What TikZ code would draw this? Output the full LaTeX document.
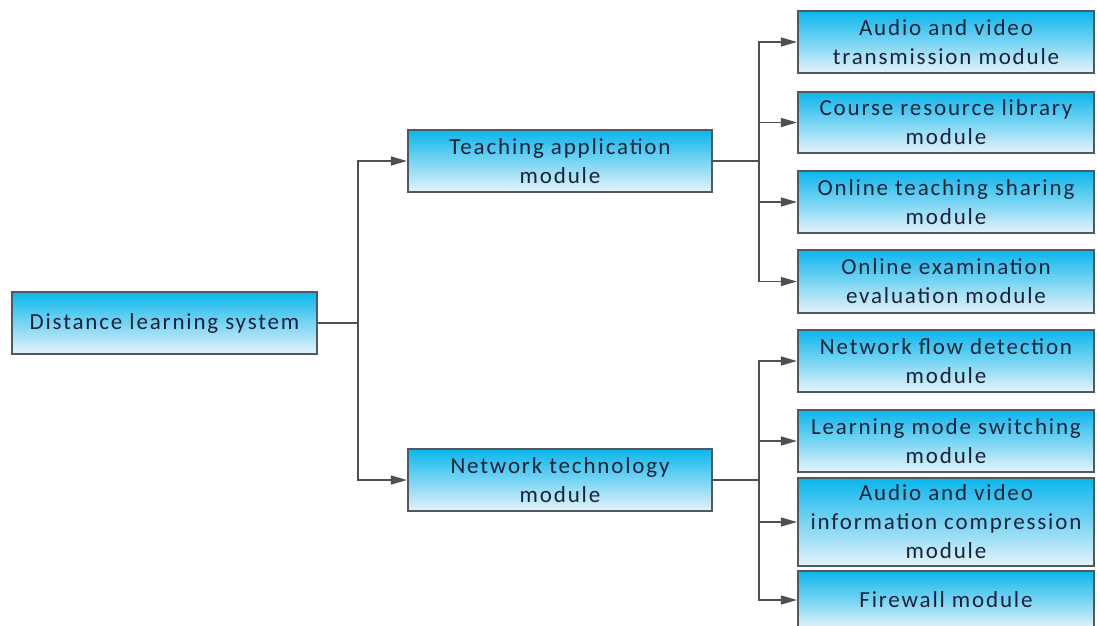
\documentclass[tikz,border=0pt]{standalone}
\usepackage{fontspec}
\setmainfont{Carlito}[LetterSpace=8]
\usetikzlibrary{arrows.meta}
\definecolor{boxtop}{RGB}{10,182,236}
\definecolor{boxbot}{RGB}{230,243,250}
\definecolor{boxline}{RGB}{80,88,96}
\definecolor{txt}{RGB}{26,34,56}
\definecolor{conn}{RGB}{80,80,80}
\tikzset{
  box/.style={rectangle, draw=boxline, line width=1.2pt, top color=boxtop, bottom color=boxbot,
    inner sep=0pt, align=center, text=txt, font=\fontsize{23}{29}\selectfont},
  conline/.style={draw=conn, line width=1.3pt},
  arr/.style={conline, -{Triangle[length=16pt,width=9pt]}, shorten >=0.5pt}
}
\begin{document}
\begin{tikzpicture}[x=1pt,y=-1pt]
\useasboundingbox (0,0) rectangle (1097,625);
% root
\node[box, minimum width=305pt, minimum height=62pt] (root) at (164.5,323) {Distance learning system};
% level 1
\node[box, minimum width=304pt, minimum height=62pt] (teach) at (560,161) {Teaching application\\module};
\node[box, minimum width=304pt, minimum height=62pt] (net) at (560,480) {Network technology\\module};
% level 2
\tikzset{leaf/.style={box, minimum width=296pt}}
\node[leaf, minimum height=62pt] (r1) at (946,42) {Audio and video\\transmission module};
\node[leaf, minimum height=61pt] (r2) at (946,122.5) {Course resource library\\module};
\node[leaf, minimum height=62pt] (r3) at (946,202) {Online teaching sharing\\module};
\node[leaf, minimum height=63pt] (r4) at (946,281.5) {Online examination\\evaluation module};
\node[leaf, minimum height=62pt] (r5) at (946,361) {Network flow detection\\module};
\node[leaf, minimum height=62pt] (r6) at (946,441) {Learning mode switching\\module};
\node[leaf, minimum height=88pt] (r7) at (946,522) {Audio and video\\information compression\\module};
\node[leaf, minimum height=58pt] (r8) at (946,600) {Firewall module};
% connectors
\coordinate (s0) at (358,323);
\coordinate (s1) at (759,161);
\coordinate (s2) at (759,480);
\draw[conline] (root.east) -- (s0);
\draw[arr] (s0) |- (teach.west);
\draw[arr] (s0) |- (net.west);
\draw[conline] (teach.east) -- (s1);
\draw[conline] (net.east) -- (s2);
\foreach \r in {r1,r2,r3,r4} \draw[arr] (s1) |- (\r.west);
\foreach \r in {r5,r6,r7,r8} \draw[arr] (s2) |- (\r.west);
\end{tikzpicture}
\end{document}
